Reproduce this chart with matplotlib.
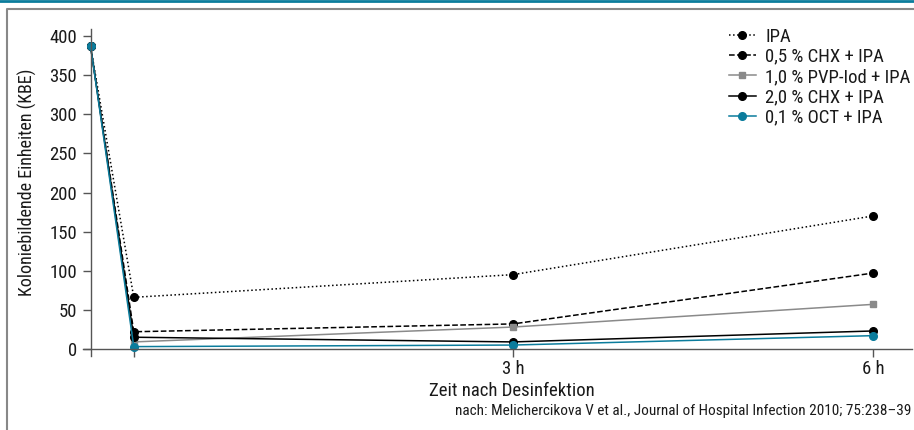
import matplotlib
matplotlib.use("Agg")
import matplotlib.pyplot as plt
from matplotlib.lines import Line2D

plt.rcParams['font.family'] = ['Roboto Condensed', 'Roboto', 'DejaVu Sans']

# Messzeitpunkte (Stunden; erster Punkt = vor Desinfektion)
x_pos = [-0.52, -0.16, 3, 6]
tick_pos = [-0.16, 3, 6]
tick_labels = ['', '3 h', '6 h']

labels = ['IPA', '0,5 % CHX + IPA', '1,0 % PVP-Iod + IPA',
          '2,0 % CHX + IPA', '0,1 % OCT + IPA']
ipa = [387, 66, 95, 170]
chx05 = [387, 22, 32, 97]
pvp = [387, 9, 28, 57]
chx20 = [387, 15, 9, 23]
oct01 = [387, 3, 5, 17]

teal = '#0b7c9c'
gray = '#8a8a8a'
txt = '#1a1a1a'

fig = plt.figure(figsize=(9.14, 4.30), dpi=100)
ax = fig.add_axes([83/914, (430-356)/430, (912-83)/914, (356-29)/430])

ax.plot(x_pos, ipa, ls=':', color='black', lw=1.1, marker='o', ms=5.5)
ax.plot(x_pos, chx05, ls='--', color='black', lw=1.1, marker='o', ms=5.5)
ax.plot(x_pos, pvp, ls='-', color=gray, lw=1.1, marker='s', ms=5)
ax.plot(x_pos, chx20, ls='-', color='black', lw=1.1, marker='o', ms=5.5)
ax.plot(x_pos, oct01, ls='-', color=teal, lw=1.1, marker='o', ms=5.5)

ax.set_xlim(-0.583, 6.325)
ax.set_ylim(-9, 409)
ax.spines['left'].set_position(('data', x_pos[0]))
ax.spines['bottom'].set_position(('data', 0))
for s in ['top', 'right']:
    ax.spines[s].set_visible(False)
for s in ['left', 'bottom']:
    ax.spines[s].set_color('#555555')
    ax.spines[s].set_linewidth(1.0)

ax.set_yticks(range(0, 401, 50))
ax.set_xticks(tick_pos)
ax.set_xticklabels(tick_labels)
ax.tick_params(axis='both', length=6, width=1.0, color='#555555',
               labelsize=13.5, labelcolor=txt)
ax.tick_params(axis='x', pad=2)

fig.text(27/914, 1 - 182/430, 'Koloniebildende Einheiten (KBE)', rotation=90,
         ha='center', va='center', fontsize=13, color=txt)
fig.text(512/914, 1 - 391/430, 'Zeit nach Desinfektion',
         ha='center', va='center', fontsize=13.5, color=txt)
fig.text(911/914, 1 - 411/430,
         'nach: Melichercikova V et al., Journal of Hospital Infection 2010; 75:238–39',
         ha='right', va='center', fontsize=11, color=txt)

handles = ax.get_lines()
leg = ax.legend(handles, labels, loc='upper left', frameon=False, fontsize=13.5,
                bbox_to_anchor=(721/914, 1 - 20/430), bbox_transform=fig.transFigure,
                handlelength=1.45, handletextpad=0.5, labelspacing=0.12,
                borderaxespad=0)
for t in leg.get_texts():
    t.set_color(txt)

# Rahmen
fig.add_artist(Line2D([0, 1], [1 - 0.8/430] * 2, transform=fig.transFigure,
                      color=teal, lw=2))
fig.add_artist(Line2D([7/914, 7/914, 1], [0, 1 - 8.5/430, 1 - 8.5/430],
                      transform=fig.transFigure, color='#888888', lw=1.5))

fig.savefig('out.png', dpi=100)
